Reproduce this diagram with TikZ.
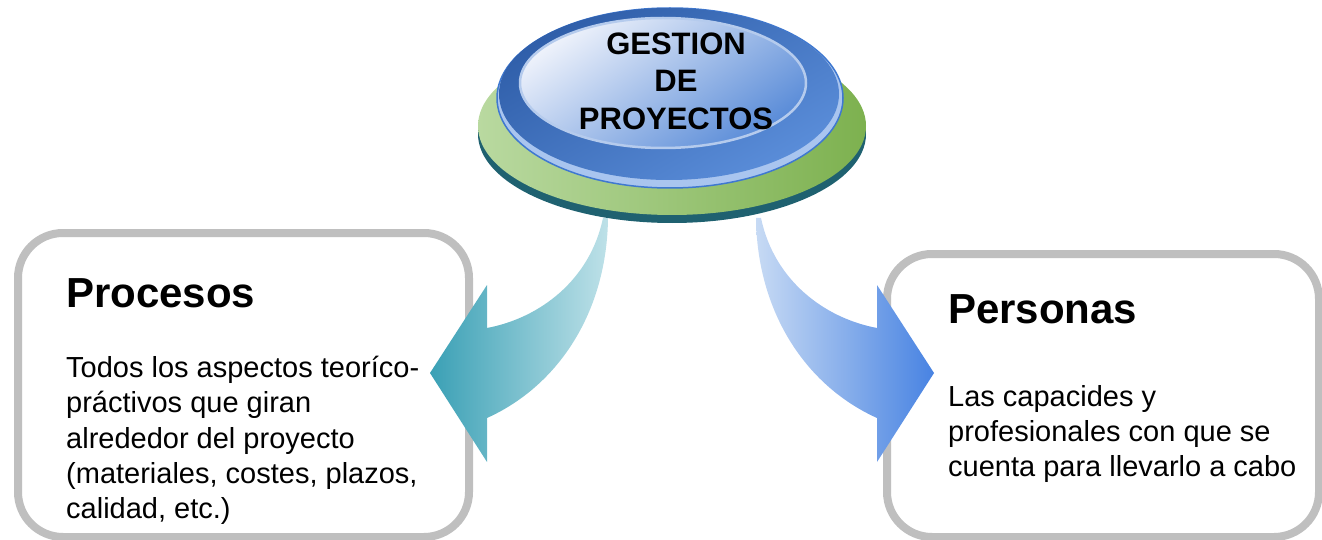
\documentclass[tikz,border=0pt]{standalone}
\usepackage{fontspec}
\setmainfont{Liberation Sans}
\usetikzlibrary{shapes.geometric}

\definecolor{boxgray}{HTML}{BFBFBF}
\definecolor{tealdark}{HTML}{3AA0B5}
\definecolor{teallight}{HTML}{BEE1E8}
\definecolor{bluelight}{HTML}{C7DAF4}
\definecolor{bluedark}{HTML}{4883E2}
\definecolor{rimteal}{HTML}{1F6170}
\definecolor{greenlight}{HTML}{B9D9A0}
\definecolor{greendark}{HTML}{7DB14F}
\definecolor{ringdark}{HTML}{2F5EA9}
\definecolor{ringmid}{HTML}{5A8DD9}
\definecolor{ringedge}{HTML}{A9C5EF}
\definecolor{ringline}{HTML}{3F78D0}
\definecolor{discwhite}{HTML}{EEF2FB}
\definecolor{discblue}{HTML}{5A8CD8}

\tikzset{
  infobox/.style={draw=boxgray,line width=8pt,rounded corners=45pt,fill=white,inner sep=0pt},
  headtext/.style={font=\bfseries\fontsize{42}{50}\selectfont,inner sep=0pt,anchor=base west},
  bodytext/.style={font=\fontsize{29}{35.3}\selectfont,inner sep=0pt,align=left,anchor=north west}
}

\begin{document}
\begin{tikzpicture}[x=1pt,y=-1pt]
  \useasboundingbox (0,0) rectangle (1322,540);

  % the two boxes
  \node[infobox,minimum width=451pt,minimum height=304pt] (procesos) at (243.5,385) {};
  \node[infobox,minimum width=432pt,minimum height=283pt] (personas) at (1103,395.5) {};

  \node[headtext] (procT) at (66,307) {Procesos};
  \node[bodytext] (procB) at (66,356) {Todos los aspectos teoríco-\\práctivos que giran\\alrededor del proyecto\\(materiales, costes, plazos,\\calidad, etc.)};
  \node[headtext] (persT) at (948,323) {Personas};
  \node[bodytext] (persB) at (948,385) {Las capacides y\\profesionales con que se\\cuenta para llevarlo a cabo};

  % curved arrows
  \coordinate (tipL) at (430,373);
  \coordinate (tipR) at (934,373);
  \shade[left color=tealdark,right color=teallight]
    (608,218) .. controls (607,310) and (560,385) .. (487,418) -- (487,462) -- (tipL)
    -- (487,285) -- (487,328) .. controls (540,318) and (590,280) .. (603,218) -- cycle;
  \shade[left color=bluelight,right color=bluedark]
    (756,218) .. controls (757,310) and (804,385) .. (877,418) -- (877,462) -- (tipR)
    -- (877,285) -- (877,328) .. controls (824,318) and (774,280) .. (761,218) -- cycle;

  % the disc
  \fill[rimteal] (672,134) ellipse [x radius=194,y radius=89];
  \shade[left color=greenlight,right color=greendark] (672,126) ellipse [x radius=194,y radius=89];
  \filldraw[fill=ringedge,draw=ringline,line width=1.5pt] (670,98) ellipse [x radius=173,y radius=90];
  \shade[top color=ringdark,bottom color=ringmid,shading angle=30] (669,94) ellipse [x radius=170,y radius=86];
  \shade[top color=discwhite,bottom color=discblue,shading angle=35,draw=white!55!discblue,line width=2.5pt]
    (663,83) ellipse [x radius=143,y radius=65];
  \node[font=\bfseries\fontsize{31}{37.5}\selectfont,align=center,inner sep=0pt] (gp) at (676,81) {GESTION\\DE\\PROYECTOS};
\end{tikzpicture}
\end{document}
